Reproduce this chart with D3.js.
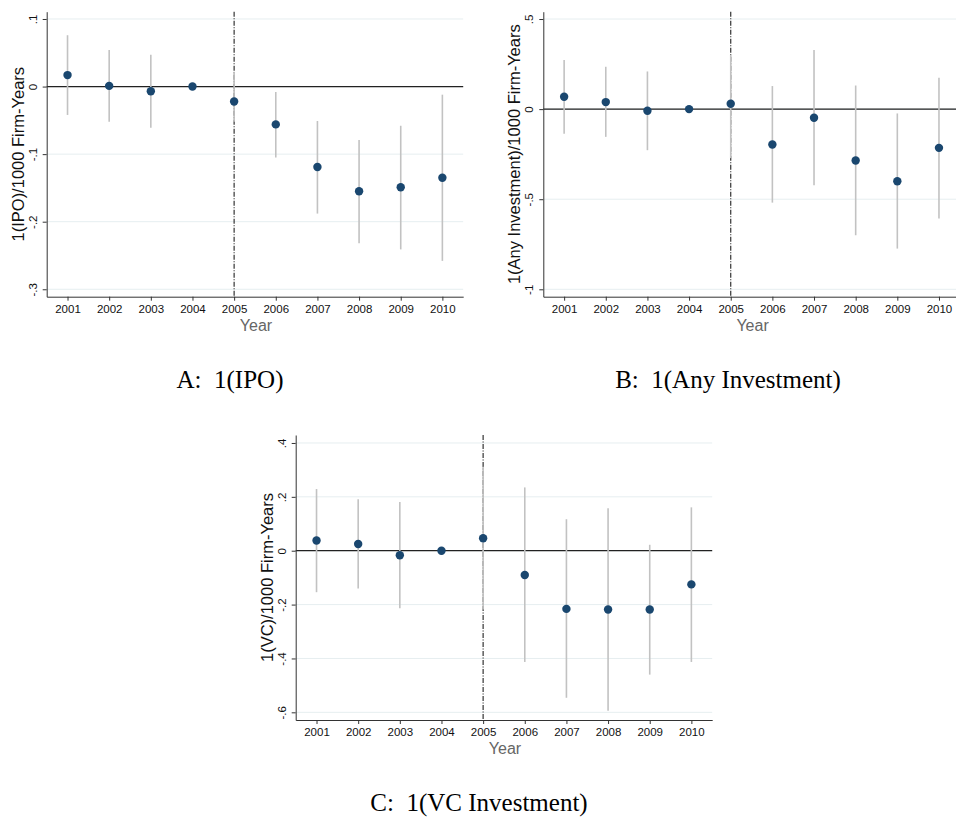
<!DOCTYPE html>
<html>
<head>
<meta charset="utf-8">
<script src="https://cdn.jsdelivr.net/npm/d3@7"></script>
<style>
  body { margin: 0; background: #fff; }
  svg { display: block; }
</style>
</head>
<body>
<div id="chart"></div>
<script>
// years on the x axis
var years = [2001, 2002, 2003, 2004, 2005, 2006, 2007, 2008, 2009, 2010];

// A: 1(IPO)
var ipoCoef = [0.017, 0.001, -0.007, 0, -0.022, -0.056, -0.119, -0.155, -0.149, -0.135];
var ipoLo   = [-0.042, -0.052, -0.061, 0, -0.052, -0.105, -0.188, -0.232, -0.241, -0.258];
var ipoHi   = [0.076, 0.054, 0.047, 0, 0.022, -0.008, -0.051, -0.079, -0.058, -0.012];
var ipoTicks = [0.1, 0, -0.1, -0.2, -0.3];

// B: 1(Any Investment)
var anyCoef = [0.069, 0.039, -0.009, 0, 0.030, -0.196, -0.048, -0.285, -0.400, -0.215];
var anyLo   = [-0.137, -0.154, -0.228, 0, -0.272, -0.519, -0.422, -0.700, -0.774, -0.607];
var anyHi   = [0.272, 0.235, 0.209, 0, 0.300, 0.128, 0.328, 0.131, -0.024, 0.174];
var anyTicks = [0.5, 0, -0.5, -1];

// C: 1(VC Investment)
var vcCoef = [0.038, 0.025, -0.017, 0, 0.046, -0.090, -0.216, -0.218, -0.218, -0.125];
var vcLo   = [-0.154, -0.140, -0.214, 0, -0.218, -0.413, -0.546, -0.594, -0.460, -0.413];
var vcHi   = [0.229, 0.191, 0.181, 0, 0.312, 0.235, 0.117, 0.158, 0.022, 0.161];
var vcTicks = [0.4, 0.2, 0, -0.2, -0.4, -0.6];

var eventYear = 2005;

var W = 956, H = 817;
var svg = d3.select("#chart").append("svg")
    .attr("width", W)
    .attr("height", H);

svg.append("rect").attr("width", W).attr("height", H).attr("fill", "#fff");

// stata style tick format: .1, -.2, 0, -1
function stataFmt(d) {
    if (d === 0) return "0";
    var s = String(+d.toFixed(3));
    return s.replace(/^(-?)0\./, "$1.");
}

function drawPanel(p) {
    var g = svg.append("g");
    var x = d3.scaleLinear().domain([2000.5, 2010.5]).range([p.left, p.left + 416.5]);
    var y = d3.scaleLinear().domain(p.domain).range([p.top + 285, p.top]);
    var bottom = p.top + 285;

    // gridlines
    g.selectAll(".grid").data(p.ticks).enter().append("line")
        .attr("x1", p.left).attr("x2", p.left + 416.5)
        .attr("y1", function(d) { return y(d); })
        .attr("y2", function(d) { return y(d); })
        .attr("stroke", "#e6eef0")
        .attr("stroke-width", 1);

    // vertical event line
    g.append("line")
        .attr("x1", x(eventYear)).attr("x2", x(eventYear))
        .attr("y1", p.top).attr("y2", bottom)
        .attr("stroke", "#333")
        .attr("stroke-width", 1.2)
        .attr("stroke-dasharray", "5,1.5,1,1.5");

    // zero line
    g.append("line")
        .attr("x1", p.left).attr("x2", p.left + 416.5)
        .attr("y1", y(0)).attr("y2", y(0))
        .attr("stroke", "#222")
        .attr("stroke-width", 1.3);

    // confidence intervals
    g.selectAll(".ci").data(years).enter().append("line")
        .attr("x1", function(d) { return x(d); })
        .attr("x2", function(d) { return x(d); })
        .attr("y1", function(d, i) { return y(p.lo[i]); })
        .attr("y2", function(d, i) { return y(p.hi[i]); })
        .attr("stroke", "#c2c2c2")
        .attr("stroke-width", 1.6);

    // point estimates
    g.selectAll(".pt").data(years).enter().append("circle")
        .attr("cx", function(d) { return x(d); })
        .attr("cy", function(d, i) { return y(p.coef[i]); })
        .attr("r", 4.2)
        .attr("fill", "#1a476f");

    // x axis
    var xAxis = g.append("g")
        .attr("transform", "translate(0," + bottom + ")")
        .call(d3.axisBottom(x).tickValues(years).tickFormat(d3.format("d")).tickSize(4).tickSizeOuter(0));
    xAxis.select(".domain").attr("stroke", "#333");
    xAxis.selectAll(".tick line").attr("stroke", "#333");
    xAxis.selectAll(".tick text")
        .attr("font-family", "Liberation Sans, Arial, sans-serif")
        .attr("font-size", "11.5px")
        .attr("fill", "#111")
        .attr("dy", "0.71em")
        .attr("y", 8);

    // y axis
    var yAxis = g.append("g")
        .attr("transform", "translate(" + p.left + ",0)")
        .call(d3.axisLeft(y).tickValues(p.ticks).tickFormat(stataFmt).tickSize(4).tickSizeOuter(0));
    yAxis.select(".domain").attr("stroke", "#333");
    yAxis.selectAll(".tick line").attr("stroke", "#333");
    yAxis.selectAll(".tick text")
        .attr("font-family", "Liberation Sans, Arial, sans-serif")
        .attr("font-size", "11.5px")
        .attr("fill", "#111")
        .attr("x", null).attr("dy", null)
        .attr("text-anchor", "middle")
        .attr("transform", "translate(-10,0) rotate(-90)");

    // axis titles
    g.append("text")
        .attr("x", (x.range()[0] + x.range()[1]) / 2 + 1)
        .attr("y", bottom + 34)
        .attr("text-anchor", "middle")
        .attr("font-family", "Liberation Sans, Arial, sans-serif")
        .attr("font-size", "16px")
        .attr("fill", "#666")
        .text("Year");

    g.append("text")
        .attr("transform", "translate(" + (p.left - 23) + "," + (p.top + 142.5) + ") rotate(-90)")
        .attr("text-anchor", "middle")
        .attr("font-family", "Liberation Sans, Arial, sans-serif")
        .attr("font-size", "16.5px")
        .attr("fill", "#111")
        .text(p.ytitle);

    // caption
    svg.append("text")
        .attr("x", p.capX)
        .attr("y", p.capY)
        .attr("text-anchor", "middle")
        .attr("font-family", "Liberation Serif, Times New Roman, serif")
        .attr("font-size", "25px")
        .attr("fill", "#000")
        .style("white-space", "pre")
        .text(p.caption);
}

drawPanel({ left: 46.7, top: 11.7, domain: [-0.311, 0.1108], ticks: ipoTicks,
    coef: ipoCoef, lo: ipoLo, hi: ipoHi, ytitle: "1(IPO)/1000 Firm-Years",
    caption: "A:  1(IPO)", capX: 230, capY: 388 });

drawPanel({ left: 543.3, top: 11.7, domain: [-1.041, 0.5406], ticks: anyTicks,
    coef: anyCoef, lo: anyLo, hi: anyHi, ytitle: "1(Any Investment)/1000 Firm-Years",
    caption: "B:  1(Any Investment)", capX: 728, capY: 388 });

drawPanel({ left: 295.7, top: 435, domain: [-0.6285, 0.4296], ticks: vcTicks,
    coef: vcCoef, lo: vcLo, hi: vcHi, ytitle: "1(VC)/1000 Firm-Years",
    caption: "C:  1(VC Investment)", capX: 479, capY: 811 });
</script>
</body>
</html>
